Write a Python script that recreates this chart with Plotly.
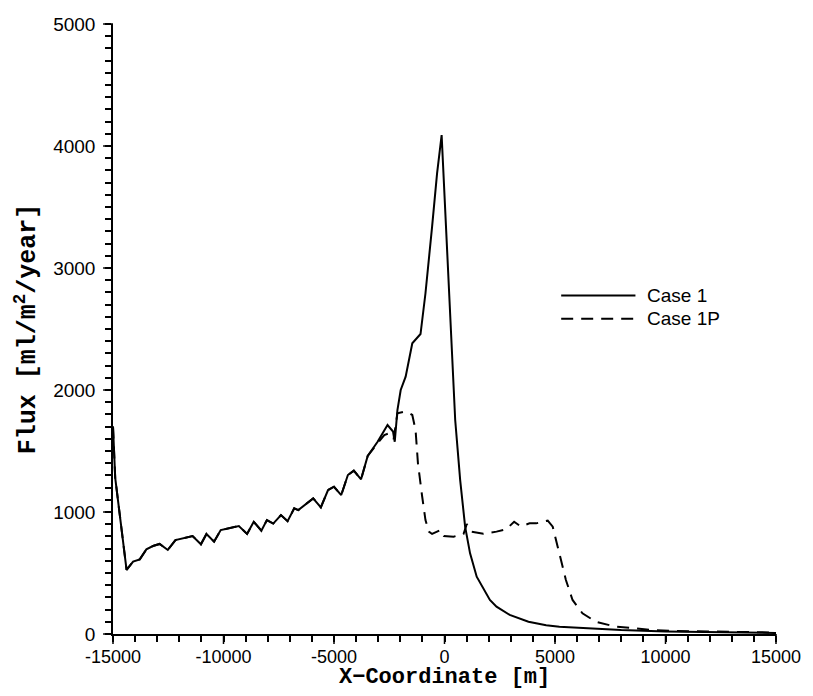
import plotly.graph_objects as go

# Case 1 (solid)
case1_x = [-15000, -14900, -14386, -14090, -13789, -13489, -13193, -12892, -12520, -12175,
           -11399, -11022, -10771, -10426, -10126, -9305, -8933, -8632, -8287, -8036,
           -7750, -7400, -7100, -6800, -6614, -6300, -5942, -5596, -5269, -5000,
           -4673, -4372, -4103, -3776, -3475, -3027, -2578, -2330, -2251, -2130,
           -1982, -1758, -1457, -1085, -861, -561, -336, -130, 381, 484,
           709, 933, 1157, 1457, 2054, 2354, 2951, 3800, 4600, 5200,
           6700, 8000, 10000, 12500, 15000]
case1_y = [1700, 1280, 525, 593, 612, 694, 721, 738, 689, 770,
           803, 735, 820, 757, 852, 885, 820, 920, 847, 934,
           905, 975, 925, 1030, 1016, 1060, 1112, 1038, 1180, 1207,
           1139, 1303, 1339, 1268, 1459, 1576, 1713, 1660, 1576, 1836,
           2000, 2109, 2383, 2459, 2793, 3339, 3776, 4090, 2082, 1754,
           1262, 880, 661, 470, 279, 224, 156, 100, 72, 60,
           45, 32, 20, 12, 8]

# Case 1P (dashed)
case1p_x = [-15000, -14900, -14386, -14090, -13789, -13489, -13193, -12892, -12520, -12175,
            -11399, -11022, -10771, -10426, -10126, -9305, -8933, -8632, -8287, -8036,
            -7750, -7400, -7100, -6800, -6614, -6300, -5942, -5596, -5269, -5000,
            -4673, -4372, -4103, -3776, -3475, -3027, -2726, -2502, -2300, -2130,
            -1830, -1600, -1457, -1309, -1202, -1009, -861, -709, -561, -336,
            -188, -36, 413, 861, 1009, 1233, 1758, 2354, 2803, 3150,
            3450, 3848, 4148, 4672, 4897, 5121, 5269, 5493, 5794, 6242,
            6839, 7735, 8632, 9380, 10500, 12500, 15000]
case1p_y = [1700, 1280, 525, 593, 612, 694, 721, 738, 689, 770,
            803, 735, 820, 757, 852, 885, 820, 920, 847, 934,
            905, 975, 925, 1030, 1016, 1060, 1112, 1038, 1180, 1207,
            1139, 1303, 1339, 1268, 1459, 1563, 1631, 1645, 1600, 1809,
            1822, 1810, 1795, 1672, 1399, 1125, 934, 839, 820, 839,
            852, 803, 798, 820, 902, 839, 822, 839, 860, 920,
            882, 907, 907, 929, 880, 716, 607, 443, 279, 170,
            101, 60, 46, 33, 25, 18, 12]

legend_labels = ["Case 1", "Case 1P"]

# axis ticks
x_major = [-15000, -10000, -5000, 0, 5000, 10000, 15000]
x_minor = list(range(-15000, 15001, 1000))
y_major = [0, 1000, 2000, 3000, 4000, 5000]
y_minor = list(range(0, 5001, 100))

x_range = [-15000, 15000]
y_range = [0, 5000]

fig = go.Figure()
fig.add_trace(go.Scatter(x=case1_x, y=case1_y, mode="lines", name=legend_labels[0],
                         line=dict(color="black", width=2)))
fig.add_trace(go.Scatter(x=case1p_x, y=case1p_y, mode="lines", name=legend_labels[1],
                         line=dict(color="black", width=2, dash="12px,8px")))

# custom legend with long line samples
leg_y = [0.555, 0.517]
dashes = ["solid", "12px,8px"]
for lab, yy, dd in zip(legend_labels, leg_y, dashes):
    fig.add_shape(type="line", xref="paper", yref="paper", x0=0.676, x1=0.788, y0=yy, y1=yy,
                  line=dict(color="black", width=2, dash=dd))
    fig.add_annotation(xref="paper", yref="paper", x=0.803, y=yy, text=lab, showarrow=False,
                       xanchor="left", yanchor="middle",
                       font=dict(family="Liberation Sans", size=19, color="black"))

# longer major tick marks (paper-referenced so they are not clipped)
PW, PH = 669.0, 610.0
for xv in x_major:
    px = (xv - x_range[0]) / (x_range[1] - x_range[0])
    fig.add_shape(type="line", xref="paper", yref="paper", x0=px, x1=px, y0=0, y1=-10 / PH,
                  line=dict(color="black", width=1.5))
for yv in y_major:
    py = (yv - y_range[0]) / (y_range[1] - y_range[0])
    fig.add_shape(type="line", xref="paper", yref="paper", x0=0, x1=-10 / PW, y0=py, y1=py,
                  line=dict(color="black", width=1.5))

# x axis title as annotation
fig.add_annotation(xref="paper", yref="paper", x=0.5, y=-0.071, text="<b>X\u2212Coordinate [m]</b>",
                   showarrow=False, xanchor="center", yanchor="middle",
                   font=dict(family="Liberation Mono", size=22, color="black"))

fig.update_layout(
    width=813, height=696,
    margin=dict(l=113, r=31, t=24, b=62),
    paper_bgcolor="white", plot_bgcolor="white",
    showlegend=False,
    font=dict(family="Liberation Sans", size=18, color="black"),
    xaxis=dict(range=x_range, tickmode="array", tickvals=x_minor,
               ticktext=[str(v) if v in x_major else "" for v in x_minor],
               ticks="outside", ticklen=6, tickwidth=1.5, tickcolor="black",
               showline=True, linecolor="black", linewidth=1.5, showgrid=False, zeroline=False,
               tickfont=dict(family="Liberation Sans", size=18)),
    yaxis=dict(range=y_range, tickmode="array", tickvals=y_minor,
               ticktext=[str(v) if v in y_major else "" for v in y_minor],
               ticks="outside", ticklen=6, tickwidth=1.5, tickcolor="black",
               showline=True, linecolor="black", linewidth=1.5, showgrid=False, zeroline=False,
               ticklabelstandoff=6,
               tickfont=dict(family="Liberation Sans", size=19),
               title=dict(text="<b>Flux [ml/m<sup>2</sup>/year]</b>",
                          font=dict(family="Liberation Mono", size=25), standoff=10)),
)

fig.write_html("out.html")
